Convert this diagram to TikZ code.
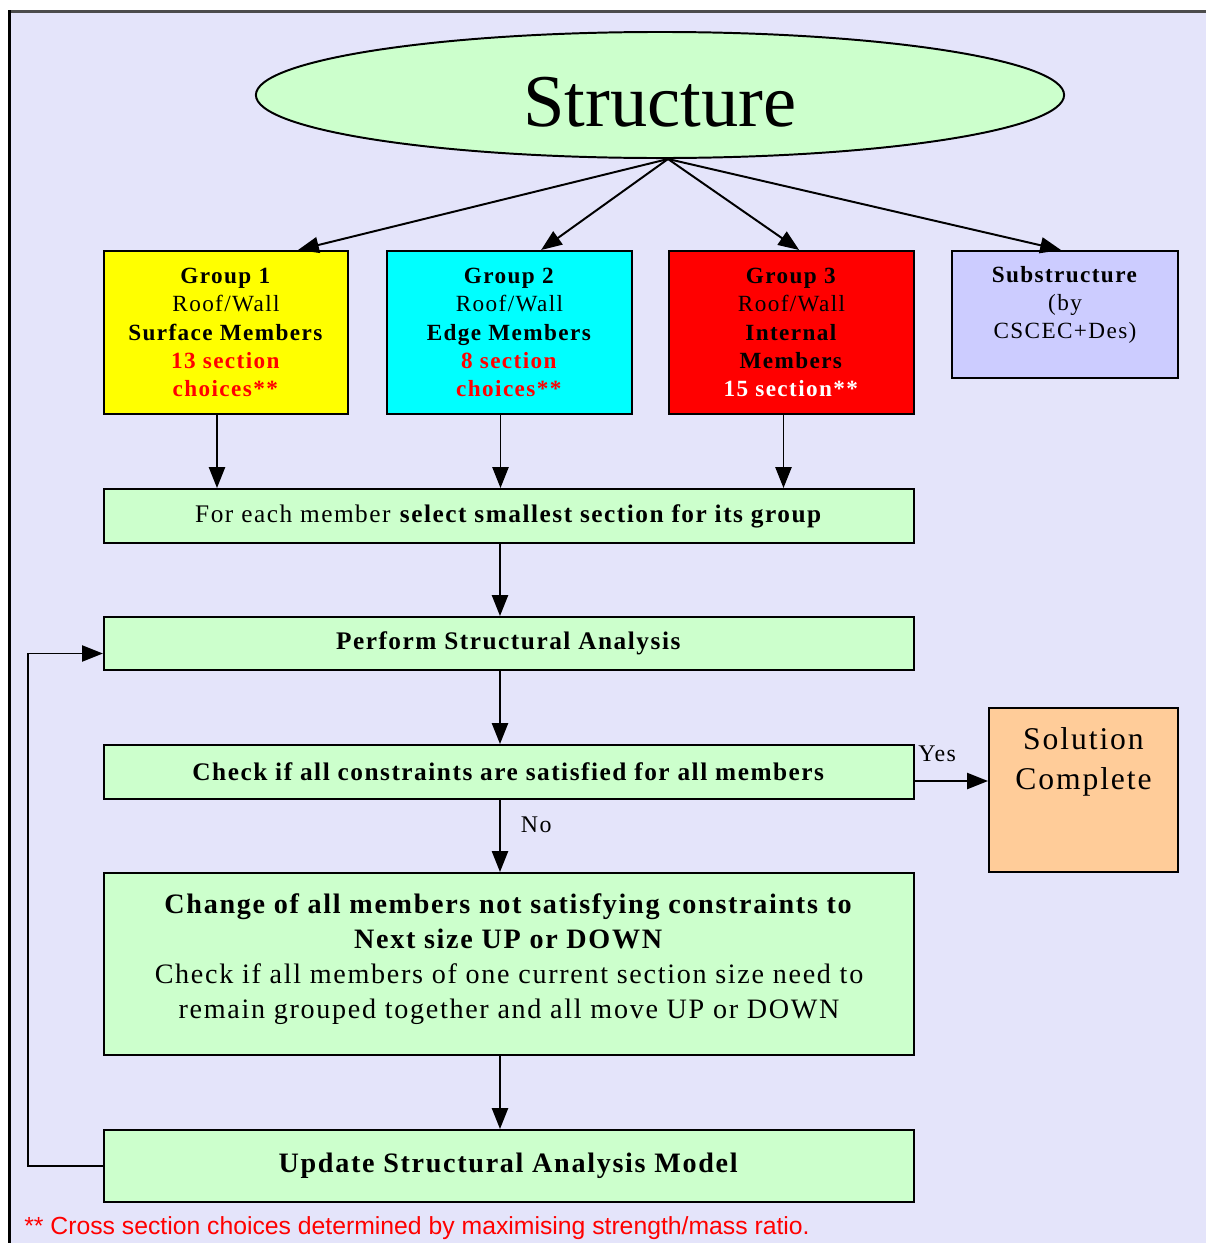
\documentclass[tikz,border=0pt]{standalone}
\usepackage{fontspec}
\setmainfont{Liberation Serif}[LetterSpace=6]
\newfontfamily\footfont{Liberation Sans}
\newfontfamily\bigfont{Liberation Serif}
\usetikzlibrary{arrows.meta,shapes.geometric,calc}
\definecolor{bgl}{HTML}{E4E4FA}
\definecolor{grn}{HTML}{CCFFCC}
\definecolor{yel}{HTML}{FFFF00}
\definecolor{cyn}{HTML}{00FFFF}
\definecolor{rd}{HTML}{FF0000}
\definecolor{subc}{HTML}{CCCCFF}
\definecolor{sol}{HTML}{FFCC99}
\tikzset{
  boxst/.style={draw=black, line width=1.4pt, rectangle, align=center, inner sep=0pt},
  grpfont/.style={font=\fontsize{16.5}{20}\selectfont},
  midfont/.style={font=\fontsize{18}{20}\selectfont},
  arr/.style={line width=1.4pt, -{Triangle[length=0.52cm,width=0.4cm]}},
  lbl/.style={inner sep=0pt, font=\fontsize{17}{20}\selectfont}
}
\begin{document}
\begin{tikzpicture}[x=0.025cm,y=-0.025cm]
\useasboundingbox (0,0) rectangle (1206,1243);
\fill[white] (0,0) rectangle (1206,1243);
\fill[bgl] (9,11) rectangle (1206,1243);
\draw[line width=2pt, black!70] (8,11.5) -- (1206,11.5);
\draw[line width=2.6pt, black] (9.5,10) -- (9.5,1243);

% ellipse
\node[ellipse, draw=black, line width=1.4pt, fill=grn, minimum width=20.2cm, minimum height=3.15cm, inner sep=0pt] (st) at (660,95) {};
\node[inner sep=0pt, font=\bigfont\fontsize{53}{56}\selectfont] (stt) at (660,102) {Structure};

% group boxes
\node[boxst, grpfont, fill=yel, minimum width=6.1cm, minimum height=4.075cm] (g1) at (226,332.5)
 {\textbf{Group 1}\\Roof/Wall\\\textbf{Surface Members}\\\textcolor{red}{\textbf{13 section}}\\\textcolor{red}{\textbf{choices**}}};
\node[boxst, grpfont, fill=cyn, minimum width=6.125cm, minimum height=4.075cm] (g2) at (509.5,332.5)
 {\textbf{Group 2}\\Roof/Wall\\\textbf{Edge Members}\\\textcolor{red}{\textbf{8 section}}\\\textcolor{red}{\textbf{choices**}}};
\node[boxst, grpfont, fill=rd, minimum width=6.125cm, minimum height=4.075cm] (g3) at (791.5,332.5)
 {\textbf{Group 3}\\Roof/Wall\\\textbf{Internal}\\\textbf{Members}\\\textcolor{white}{\textbf{15 section**}}};
\node[boxst, fill=subc, minimum width=5.65cm, minimum height=3.175cm] (sub) at (1065,314.5) {};
\node[grpfont, align=center, inner sep=0pt] (subt) at (1065,305) {\textbf{Substructure}\\(by\\CSCEC+Des)};

% process boxes
\node[boxst, midfont, fill=grn, minimum width=20.25cm, minimum height=1.35cm] (fe) at (509,516)
 {For each member \textbf{select smallest section for its group}};
\node[boxst, midfont, fill=grn, minimum width=20.25cm, minimum height=1.325cm] (pa) at (509,643.5)
 {\textbf{Perform Structural Analysis}};
\node[boxst, midfont, fill=grn, minimum width=20.25cm, minimum height=1.35cm] (ck) at (509,772)
 {\textbf{Check if all constraints are satisfied for all members}};
\node[boxst, fill=grn, minimum width=20.25cm, minimum height=4.55cm] (ch) at (509,964) {};
\node[align=center, inner sep=0pt, font=\fontsize{20}{25}\selectfont] (cht) at (509,959)
 {\textbf{Change of all members not satisfying constraints to}\\\textbf{Next size UP or DOWN}\\Check if all members of one current section size need to\\remain grouped together and all move UP or DOWN};
\node[boxst, fill=grn, minimum width=20.25cm, minimum height=1.8cm, font=\fontsize{20}{25}\selectfont] (up) at (509,1166)
 {\textbf{Update Structural Analysis Model}};
\node[boxst, fill=sol, minimum width=4.725cm, minimum height=4.1cm] (sc) at (1083.5,790) {};
\node[align=center, inner sep=0pt, font=\fontsize{22.5}{28}\selectfont] (sct) at (1083.5,762) {Solution\\Complete};

% arrows from ellipse
\coordinate (top) at ([xshift=0.2cm]st.south);
\draw[arr] (top) -- ([xshift=1.8cm]g1.north);
\draw[arr] (top) -- ([xshift=0.79cm]g2.north);
\draw[arr] (top) -- ([xshift=0.19cm]g3.north);
\draw[arr] (top) -- ([xshift=-0.1cm]sub.north);

% arrows down
\draw[arr] ([xshift=-0.225cm]g1.south) -- ([xshift=-0.225cm]g1.south |- fe.north);
\draw[arr] ([xshift=-0.225cm]g2.south) -- ([xshift=-0.225cm]g2.south |- fe.north);
\draw[arr] ([xshift=-0.2cm]g3.south) -- ([xshift=-0.2cm]g3.south |- fe.north);
\draw[arr] ([xshift=-0.225cm]fe.south) -- ([xshift=-0.225cm]pa.north);
\draw[arr] ([xshift=-0.225cm]pa.south) -- ([xshift=-0.225cm]ck.north);
\draw[arr] ([xshift=-0.225cm]ck.south) -- node[lbl, right=0.5cm, pos=0.35] (no) {No} ([xshift=-0.225cm]ch.north);
\draw[arr] ([xshift=-0.225cm]ch.south) -- ([xshift=-0.225cm]up.north);
\draw[arr] ([yshift=-0.225cm]ck.east) -- ([yshift=-0.225cm]ck.east -| sc.west);
\node[lbl, anchor=west] (yes) at (918,754) {Yes};

% loop back
\draw[arr] (up.west) -- ++(-75,0) |- ([yshift=-0.25cm]pa.west);

% footnote
\node[anchor=west, inner sep=0pt, text=red, font=\footfont\fontsize{17.6}{20}\selectfont] (fn) at (24,1228)
 {** Cross section choices determined by maximising strength/mass ratio.};
\end{tikzpicture}
\end{document}
